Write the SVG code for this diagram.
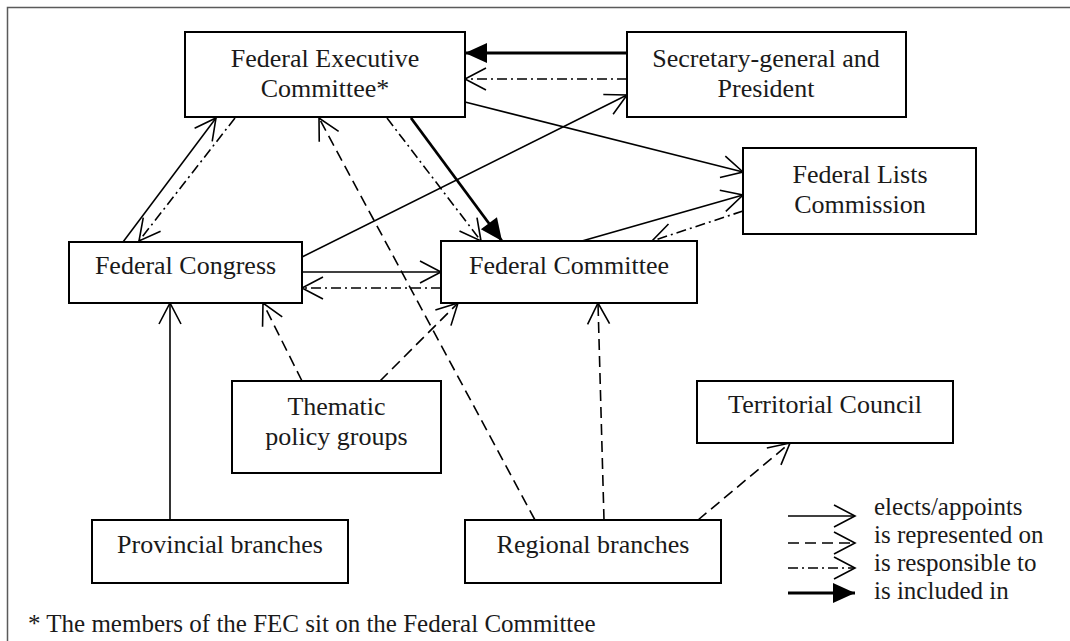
<svg xmlns="http://www.w3.org/2000/svg" width="1070" height="641" viewBox="0 0 1070 641">
  <style>
    .box { fill: #fff; stroke: #000; stroke-width: 2; }
    text { font-family: 'Liberation Serif', 'DejaVu Serif', serif; fill: #1a1a1a; }
    .lbl { font-size: 26px; text-anchor: middle; }
    .leg { font-size: 25px; }
    .note { font-size: 25px; }
    .elects { fill: none; stroke: #000; stroke-width: 1.6; marker-end: url(#open); }
    .rep { fill: none; stroke: #000; stroke-width: 1.6; stroke-dasharray: 11 6; marker-end: url(#open); }
    .resp { fill: none; stroke: #000; stroke-width: 1.6; stroke-dasharray: 10 4 2 4; marker-end: url(#open); }
    .incl { fill: none; stroke: #000; stroke-width: 2.8; marker-end: url(#filled); }
  </style>
  <defs>
    <marker id="open" markerUnits="userSpaceOnUse" viewBox="-26 -14 30 28" refX="0" refY="0" markerWidth="30" markerHeight="28" orient="auto" overflow="visible">
      <path d="M-21,-11 L0,0 L-21,11" fill="none" stroke="#000" stroke-width="1.6" stroke-dasharray="none"/>
    </marker>
    <marker id="filled" markerUnits="userSpaceOnUse" viewBox="-26 -14 30 28" refX="0" refY="0" markerWidth="30" markerHeight="28" orient="auto" overflow="visible">
      <path d="M-22,-10 L0,0 L-22,10 Z" fill="#000" stroke="none"/>
    </marker>
  </defs>

  <!-- page frame -->
  <rect x="7.5" y="7.5" width="1080" height="660" fill="#fff" stroke="#5a5a5a" stroke-width="1.5"/>

  <!-- connectors -->
  <g id="connectors">
    <!-- Secretary-general and President -> FEC -->
    <line class="incl" x1="627" y1="53" x2="465" y2="53"/>
    <line class="resp" x1="627" y1="79" x2="465" y2="79"/>
    <!-- Federal Congress -> Secretary-general and President -->
    <line class="elects" x1="302" y1="257" x2="627" y2="95"/>
    <!-- FEC -> Federal Lists Commission -->
    <line class="elects" x1="465" y1="102" x2="743" y2="172"/>
    <!-- Federal Committee <-> Federal Lists Commission -->
    <line class="elects" x1="582" y1="241" x2="743" y2="195"/>
    <line class="resp" x1="743" y1="211" x2="652" y2="241"/>
    <!-- FEC -> Federal Committee -->
    <line class="resp" x1="387" y1="118" x2="481" y2="241"/>
    <line class="incl" x1="411" y1="118" x2="502" y2="241"/>
    <!-- Federal Congress <-> FEC -->
    <line class="elects" x1="123" y1="242" x2="216" y2="118"/>
    <line class="resp" x1="235" y1="118" x2="139" y2="241"/>
    <!-- Federal Congress <-> Federal Committee -->
    <line class="elects" x1="302" y1="272" x2="441" y2="272"/>
    <line class="resp" x1="441" y1="288" x2="302" y2="288"/>
    <!-- Thematic policy groups -> Congress / Committee -->
    <line class="rep" x1="302" y1="381" x2="263" y2="303"/>
    <line class="rep" x1="380" y1="381" x2="458" y2="303"/>
    <!-- Provincial branches -> Federal Congress -->
    <line class="elects" x1="170" y1="520" x2="170" y2="303"/>
    <!-- Regional branches -> FEC / Federal Committee / Territorial Council -->
    <line class="rep" x1="535" y1="520" x2="319" y2="118"/>
    <line class="rep" x1="604" y1="520" x2="598" y2="303"/>
    <line class="rep" x1="698" y1="520" x2="790" y2="443"/>
  </g>

  <!-- nodes -->
  <g id="fec">
    <rect class="box" x="185" y="32" width="280" height="85"/>
    <text class="lbl" x="325" y="67">Federal Executive</text>
    <text class="lbl" x="325" y="97">Committee*</text>
  </g>
  <g id="secretary-general">
    <rect class="box" x="627" y="32" width="279" height="85"/>
    <text class="lbl" x="766" y="67">Secretary-general and</text>
    <text class="lbl" x="766" y="97">President</text>
  </g>
  <g id="federal-lists-commission">
    <rect class="box" x="743" y="148" width="233" height="86"/>
    <text class="lbl" x="860" y="183">Federal Lists</text>
    <text class="lbl" x="860" y="213">Commission</text>
  </g>
  <g id="federal-congress">
    <rect class="box" x="69" y="242" width="233" height="61"/>
    <text class="lbl" x="185.5" y="274">Federal Congress</text>
  </g>
  <g id="federal-committee">
    <rect class="box" x="441" y="241" width="256" height="62"/>
    <text class="lbl" x="569" y="274">Federal Committee</text>
  </g>
  <g id="thematic-policy-groups">
    <rect class="box" x="232" y="381" width="209" height="92"/>
    <text class="lbl" x="336.5" y="415">Thematic</text>
    <text class="lbl" x="336.5" y="445">policy groups</text>
  </g>
  <g id="territorial-council">
    <rect class="box" x="697" y="381" width="256" height="62"/>
    <text class="lbl" x="825" y="413">Territorial Council</text>
  </g>
  <g id="provincial-branches">
    <rect class="box" x="92" y="520" width="256" height="63"/>
    <text class="lbl" x="220" y="553">Provincial branches</text>
  </g>
  <g id="regional-branches">
    <rect class="box" x="465" y="520" width="256" height="63"/>
    <text class="lbl" x="593" y="553">Regional branches</text>
  </g>

  <!-- legend -->
  <g id="legend">
    <line class="elects" x1="788" y1="516" x2="855" y2="516"/>
    <line class="rep" x1="788" y1="543" x2="855" y2="543"/>
    <line class="resp" x1="788" y1="568" x2="855" y2="568"/>
    <line class="incl" x1="788" y1="593" x2="855" y2="593"/>
    <text class="leg" x="874" y="515">elects/appoints</text>
    <text class="leg" x="874" y="543">is represented on</text>
    <text class="leg" x="874" y="571">is responsible to</text>
    <text class="leg" x="874" y="599">is included in</text>
  </g>

  <!-- footnote -->
  <text class="note" x="28" y="632">* The members of the FEC sit on the Federal Committee</text>
</svg>
